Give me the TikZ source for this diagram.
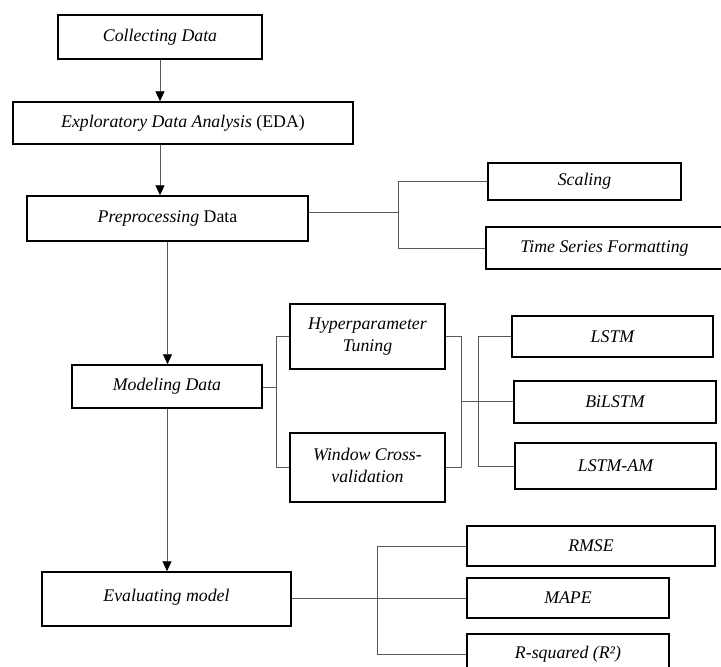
\documentclass[tikz,border=0pt]{standalone}
\usepackage{fontspec}
\setmainfont{Liberation Serif}
\usetikzlibrary{arrows.meta}
\begin{document}
\begin{tikzpicture}[x=1pt,y=-1pt,
  box/.style={draw=black, line width=1.5pt, fill=white, inner sep=0pt, align=center,
    font=\fontsize{17.8}{22}\selectfont},
  conn/.style={draw=black!65, line width=0.9pt},
  arr/.style={draw=black!65, line width=0.9pt, -{Triangle[length=10pt,width=9pt,fill=black,color=black]}}]
\useasboundingbox (0,0) rectangle (721,667);
\fill[white] (0,0) rectangle (721,667);
% main column
\node[box, minimum width=204pt, minimum height=44pt] (collect) at (160,37) {\itshape Collecting Data};
\node[box, minimum width=340pt, minimum height=42pt] (eda) at (183,123) {\textit{Exploratory Data Analysis} (EDA)};
\node[box, minimum width=281pt, minimum height=45pt] (prep) at (167.5,218.5) {\textit{Preprocessing} Data};
\node[box, minimum width=190pt, minimum height=43pt] (model) at (167,386.5) {\itshape Modeling Data};
\node[box, minimum width=249pt, minimum height=54pt] (eval) at (166.5,599) {\raisebox{7pt}{\itshape Evaluating model}};
% preprocessing branch
\node[box, minimum width=193pt, minimum height=37pt] (scaling) at (584.5,181.5) {\itshape Scaling};
\node[box, minimum width=237pt, minimum height=42pt] (tsf) at (604.5,248) {\itshape Time Series Formatting};
% modeling branch
\node[box, minimum width=155pt, minimum height=65pt] (hyper) at (367.5,336.5) {\itshape Hyperparameter\\\itshape Tuning};
\node[box, minimum width=155pt, minimum height=69pt] (window) at (367.5,467.5) {\raisebox{4pt}{\begin{tabular}{@{}c@{}}\itshape Window Cross-\\\itshape validation\end{tabular}}};
\node[box, minimum width=201pt, minimum height=41pt] (lstm) at (612.5,336.5) {\itshape LSTM};
\node[box, minimum width=202pt, minimum height=42pt] (bilstm) at (615,402) {\itshape BiLSTM};
\node[box, minimum width=201pt, minimum height=46pt] (lstmam) at (615.5,466) {\itshape LSTM-AM};
% evaluation branch
\node[box, minimum width=248pt, minimum height=40pt] (rmse) at (591,546) {\itshape RMSE};
\node[box, minimum width=202pt, minimum height=40pt] (mape) at (568,598) {\itshape MAPE};
\node[box, minimum width=202pt, minimum height=40pt] (rsq) at (568,654) {\itshape R-squared (R²)};
% fork coordinates
\coordinate (f1) at (398,212);
\coordinate (f2) at (276,387);
\coordinate (f3) at (461,401);
\coordinate (f4) at (478,401);
\coordinate (f5) at (377,598);
% main arrows
\draw[arr] (collect.south) -- (collect.south |- eda.north);
\draw[arr] (collect.south |- eda.south) -- (collect.south |- prep.north);
\draw[arr] (prep.south) -- (prep.south |- model.north);
\draw[arr] (model.south) -- (model.south |- eval.north);
% preprocessing fork
\draw[conn] (prep.east |- f1) -- (f1);
\draw[conn] (f1 |- scaling.west) -- (f1 |- tsf.west);
\draw[conn] (f1 |- scaling.west) -- (scaling.west);
\draw[conn] (f1 |- tsf.west) -- (tsf.west);
% modeling fork
\draw[conn] (model.east |- f2) -- (f2);
\draw[conn] (f2 |- hyper.west) -- (hyper.west);
\draw[conn] (f2 |- window.west) -- (window.west);
\draw[conn] (f2 |- hyper.west) -- (f2 |- window.west);
\draw[conn] (hyper.east) -- (f3 |- hyper.east) -- (f3 |- window.east) -- (window.east);
\draw[conn] (f3) -- (bilstm.west |- f3);
\draw[conn] (f4 |- lstm.west) -- (f4 |- lstmam.west);
\draw[conn] (f4 |- lstm.west) -- (lstm.west);
\draw[conn] (f4 |- lstmam.west) -- (lstmam.west);
% evaluation fork
\draw[conn] (eval.east |- f5) -- (mape.west |- f5);
\draw[conn] (f5 |- rmse.west) -- (f5 |- rsq.west);
\draw[conn] (f5 |- rmse.west) -- (rmse.west);
\draw[conn] (f5 |- rsq.west) -- (rsq.west);
\end{tikzpicture}
\end{document}
